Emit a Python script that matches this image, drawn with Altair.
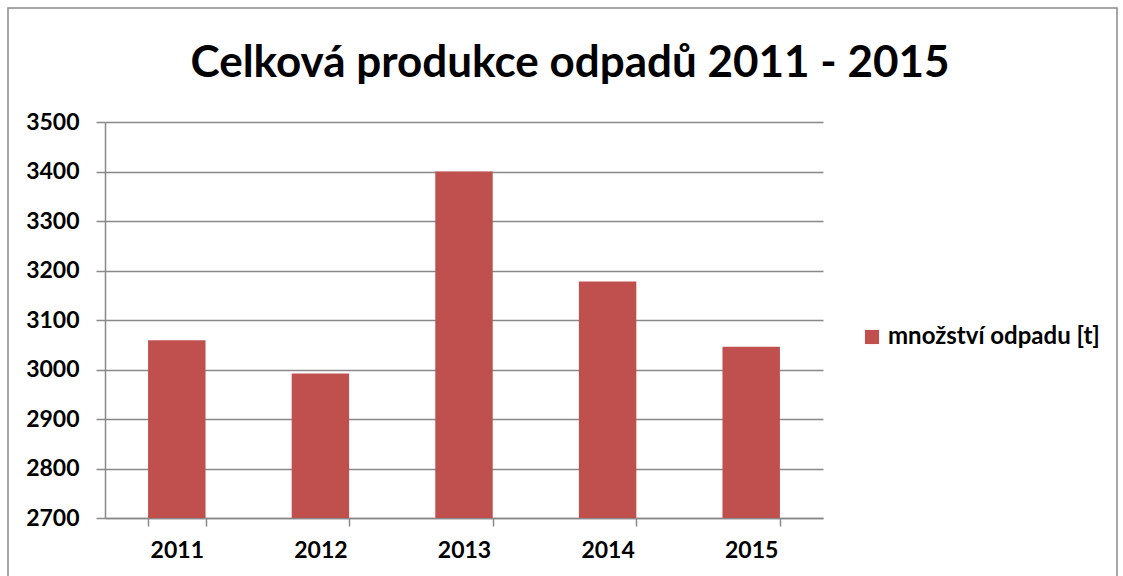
import altair as alt
import pandas as pd

years = ["2011", "2012", "2013", "2014", "2015"]
values = [3059, 2992, 3400, 3178, 3046]
series = "množství odpadu [t]"
y_ticks = [2700, 2800, 2900, 3000, 3100, 3200, 3300, 3400, 3500]
title_text = ["Celková produkce odpadů 2011 - 2015"]

df = pd.DataFrame({"rok": years, "hodnota": values, "serie": [series] * len(years)})
tdf = pd.DataFrame({"t": title_text})

FONT = "Lato"
GRID = "#898989"
RED = "#C0504D"

bars = alt.Chart(df).mark_bar(clip=True).encode(
    x=alt.X("rok:N", title=None,
            scale=alt.Scale(paddingInner=0.6, paddingOuter=0.3),
            axis=alt.Axis(labelAngle=0, labelFont=FONT, labelFontSize=23, labelFontWeight="bold",
                          labelColor="black", tickBand="extent", tickSize=8, tickColor=GRID,
                          domainColor=GRID, domainWidth=1.5, tickWidth=1.5, labelPadding=13)),
    y=alt.Y("hodnota:Q", title=None,
            scale=alt.Scale(domain=[2700, 3500], zero=False, nice=False),
            axis=alt.Axis(values=y_ticks, labelFont=FONT, labelFontSize=23, labelFontWeight="bold",
                          labelColor="black", tickSize=9, tickColor=GRID, domainColor=GRID,
                          gridColor=GRID, gridWidth=1.5, domainWidth=1.5, tickWidth=1.5,
                          labelPadding=17, format="d")),
    y2=alt.datum(2700),
    color=alt.Color("serie:N", title=None,
                    scale=alt.Scale(domain=[series], range=[RED]),
                    legend=alt.Legend(orient="none", legendX=755, legendY=203,
                                      symbolType="square", symbolSize=200, symbolStrokeWidth=0,
                                      labelFont=FONT, labelFontSize=24, labelFontWeight="bold",
                                      labelColor="black", labelLimit=400)),
)

frame = alt.Chart(tdf).mark_rect(fill=None, stroke=GRID, strokeWidth=1.5, clip=False).encode(
    x=alt.value(-97), x2=alt.value(1012), y=alt.value(-114), y2=alt.value(480)
)

title = alt.Chart(tdf).mark_text(font=FONT, fontSize=44, fontWeight="bold", color="black",
                                 align="center", baseline="alphabetic").encode(
    text="t:N", x=alt.value(465), y=alt.value(-45)
)

chart = alt.layer(frame, bars, title).properties(
    width=718, height=396,
    autosize=alt.AutoSizeParams(type="none"),
    padding={"left": 105, "top": 122, "right": 300, "bottom": 58},
).configure_view(stroke=None)

chart.save("out.html", embed_options={"renderer": "svg", "actions": False})
